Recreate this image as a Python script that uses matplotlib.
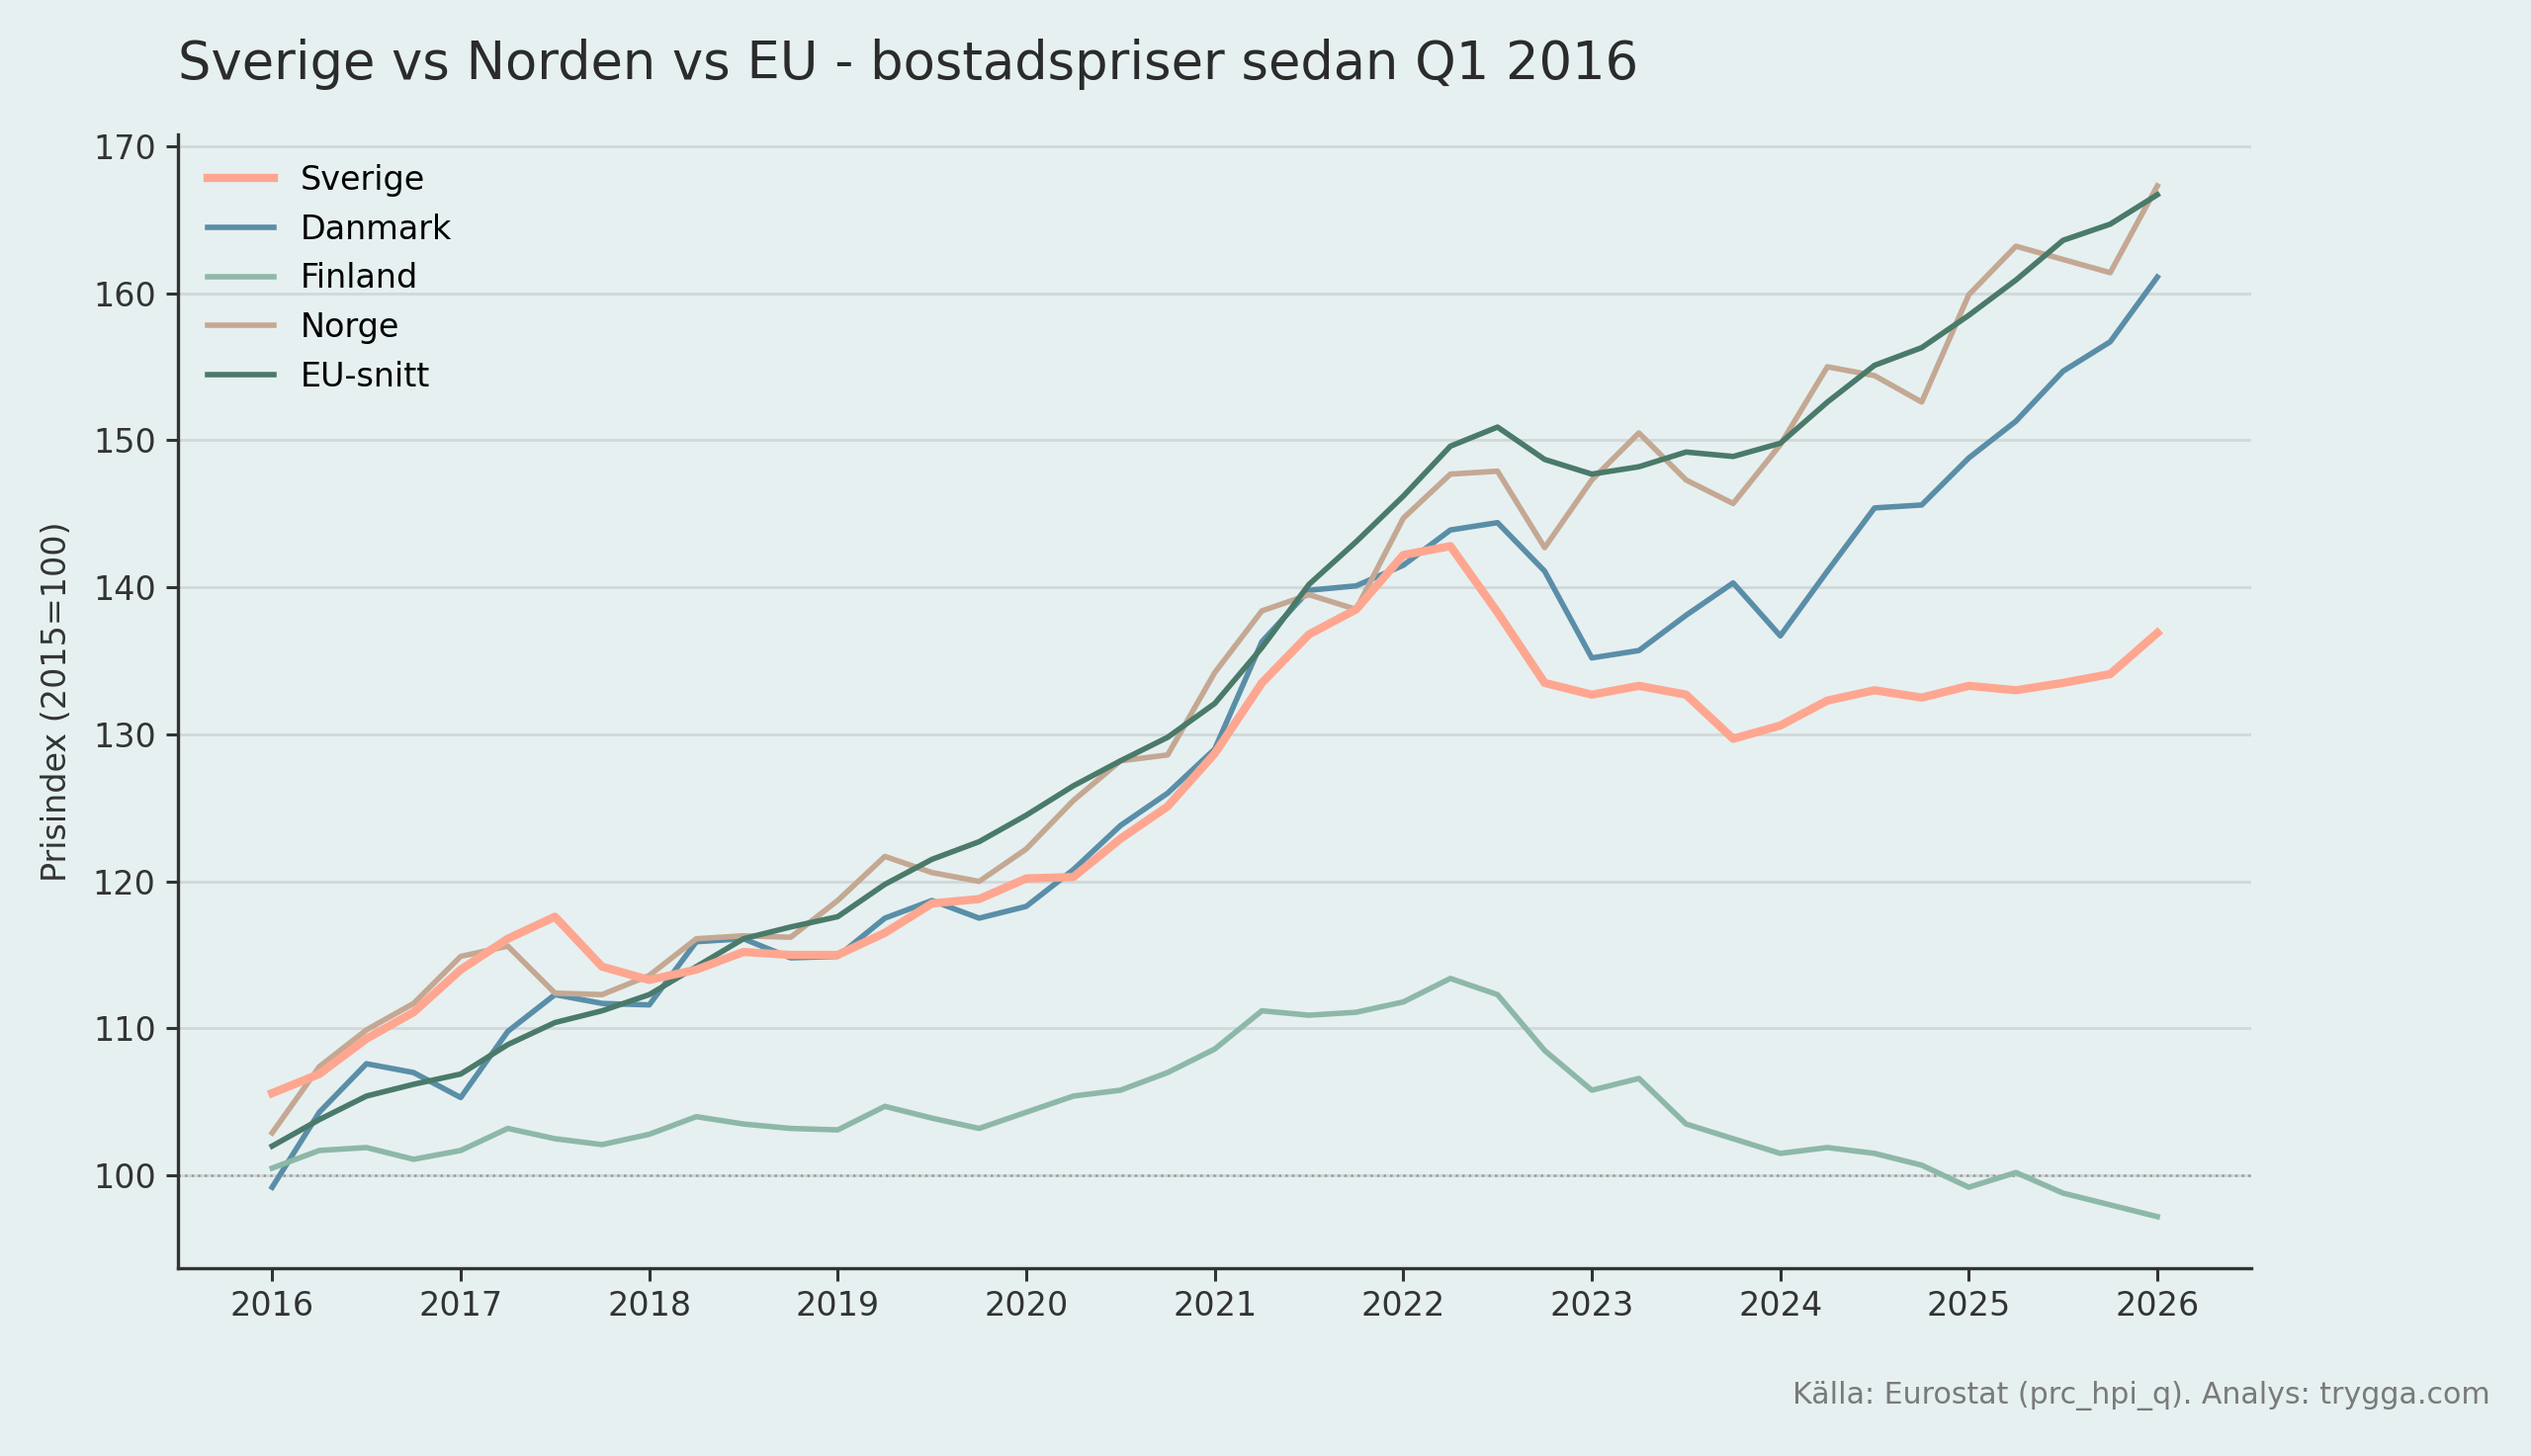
import numpy as np
import matplotlib
matplotlib.use("Agg")
import matplotlib.pyplot as plt

# Quarterly house price index (2015=100), Q1 2016 .. Q1 2026
quarters = np.arange(2016, 2026.01, 0.25)

sverige = [105.6, 106.9, 109.3, 111.1, 114.0, 116.1, 117.6, 114.2, 113.3, 114.0,
           115.2, 115.0, 115.0, 116.5, 118.5, 118.8, 120.2, 120.3, 122.9, 125.1,
           128.7, 133.5, 136.8, 138.5, 142.2, 142.8, 138.3, 133.5, 132.7, 133.3,
           132.7, 129.7, 130.6, 132.3, 133.0, 132.5, 133.3, 133.0, 133.5, 134.1,
           136.9]
danmark = [99.2, 104.3, 107.6, 107.0, 105.3, 109.8, 112.3, 111.7, 111.6, 115.9,
           116.1, 114.8, 114.9, 117.5, 118.7, 117.5, 118.3, 120.8, 123.8, 126.0,
           129.0, 136.3, 139.8, 140.1, 141.5, 143.9, 144.4, 141.1, 135.2, 135.7,
           138.1, 140.3, 136.7, 141.1, 145.4, 145.6, 148.8, 151.3, 154.7, 156.7,
           161.1]
finland = [100.5, 101.7, 101.9, 101.1, 101.7, 103.2, 102.5, 102.1, 102.8, 104.0,
           103.5, 103.2, 103.1, 104.7, 103.9, 103.2, 104.3, 105.4, 105.8, 107.0,
           108.6, 111.2, 110.9, 111.1, 111.8, 113.4, 112.3, 108.5, 105.8, 106.6,
           103.5, 102.5, 101.5, 101.9, 101.5, 100.7, 99.2, 100.2, 98.8, 98.0,
           97.2]
norge = [102.9, 107.4, 109.9, 111.7, 114.9, 115.6, 112.4, 112.3, 113.6, 116.1,
         116.3, 116.2, 118.7, 121.7, 120.6, 120.0, 122.2, 125.5, 128.2, 128.6,
         134.2, 138.4, 139.5, 138.5, 144.7, 147.7, 147.9, 142.7, 147.3, 150.5,
         147.3, 145.7, 149.7, 155.0, 154.4, 152.6, 159.9, 163.2, 162.3, 161.4,
         167.3]
eu_snitt = [102.0, 103.8, 105.4, 106.2, 106.9, 108.9, 110.4, 111.2, 112.3, 114.2,
            116.1, 116.9, 117.6, 119.8, 121.5, 122.7, 124.5, 126.5, 128.2, 129.8,
            132.1, 135.9, 140.2, 143.1, 146.2, 149.6, 150.9, 148.7, 147.7, 148.2,
            149.2, 148.9, 149.8, 152.6, 155.1, 156.3, 158.5, 160.9, 163.6, 164.7,
            166.7]

years = list(range(2016, 2027))

bg = "#e6f0f0"
fig = plt.figure(figsize=(12.8, 7.365), dpi=200, facecolor=bg)
ax = fig.add_axes([0.0703, 0.129, 0.8193, 0.7787], facecolor=bg)

ax.plot(quarters, sverige, color="#ffa690", lw=3.0, label="Sverige", zorder=5)
ax.plot(quarters, danmark, color="#5a8ea8", lw=2.0, label="Danmark", zorder=4)
ax.plot(quarters, finland, color="#8db8a7", lw=2.0, label="Finland", zorder=4)
ax.plot(quarters, norge, color="#c4a893", lw=2.0, label="Norge", zorder=4)
ax.plot(quarters, eu_snitt, color="#4a7a6a", lw=2.0, label="EU-snitt", zorder=4)

ax.axhline(100, color="#999999", lw=0.9, ls=":", zorder=2)

ax.set_xlim(2015.5, 2026.5)
ax.set_xticks(years)
ax.set_xticklabels([str(y) for y in years])
ax.set_yticks(range(100, 171, 10))

ax.grid(axis="y", color="#d0d8da", lw=1.0, zorder=0)
ax.set_axisbelow(True)
for s in ["top", "right"]:
    ax.spines[s].set_visible(False)
for s in ["left", "bottom"]:
    ax.spines[s].set_color("#333333")
    ax.spines[s].set_linewidth(1.2)
ax.tick_params(labelsize=12, colors="#333333", length=4.5, width=1.1)

ax.set_ylabel("Prisindex (2015=100)", fontsize=12, color="#333333", labelpad=7)
ax.set_title("Sverige vs Norden vs EU - bostadspriser sedan Q1 2016",
             loc="left", fontsize=19, color="#2b2b2b", pad=20)

ax.legend(loc="upper left", frameon=False, fontsize=12)

fig.text(0.984, 0.031, "Källa: Eurostat (prc_hpi_q). Analys: trygga.com",
         ha="right", va="bottom", fontsize=10.8, color="#7a7a7a")

fig.savefig("out.png", dpi=200, facecolor=bg)
